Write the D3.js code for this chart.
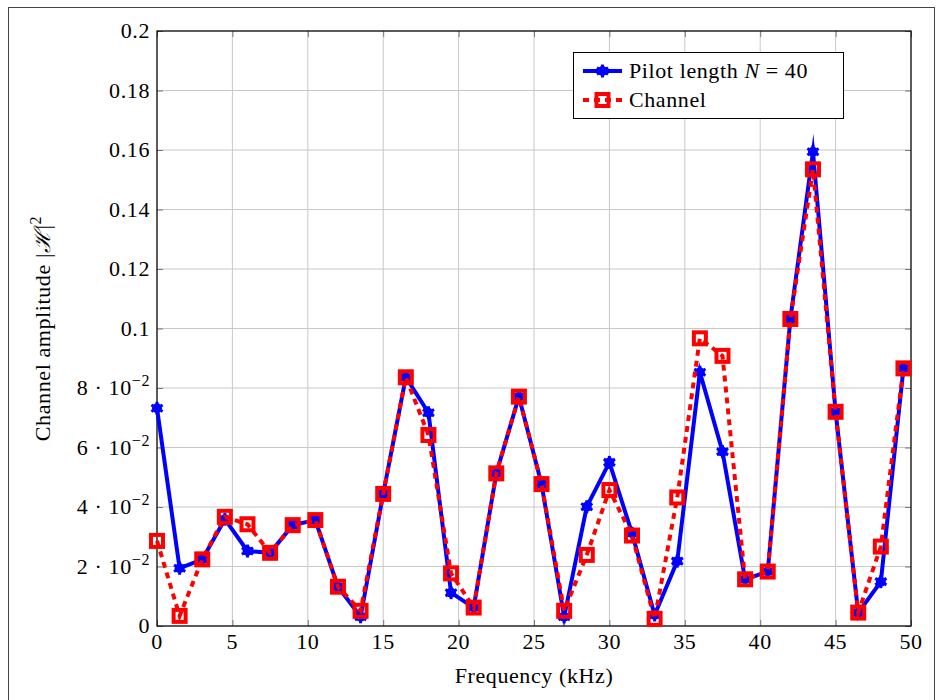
<!DOCTYPE html>
<html><head><meta charset="utf-8">
<script src="https://cdn.jsdelivr.net/npm/d3@7"></script>
<style>body{margin:0;background:#fff}</style>
</head><body><svg id="c" width="936" height="700"></svg>
<script>
const freq = [0,1.5,3,4.5,6,7.5,9,10.5,12,13.5,15,16.5,18,19.5,21,22.5,24,25.5,27,28.5,30,31.5,33,34.5,36,37.5,39,40.5,42,43.5,45,46.5,48,49.5];
const pilot = [0.0732,0.0194,0.0224,0.0359,0.0252,0.0246,0.0339,0.0356,0.0132,0.0031,0.0444,0.0836,0.0717,0.0112,0.0062,0.0513,0.0771,0.0477,0.0031,0.0401,0.0550,0.0312,0.0037,0.0218,0.0853,0.0586,0.0157,0.0183,0.1032,0.1594,0.0720,0.0045,0.0149,0.0866];
const channel = [0.0286,0.0034,0.0224,0.0367,0.0342,0.0246,0.0339,0.0356,0.0132,0.0051,0.0444,0.0836,0.0642,0.0177,0.0062,0.0513,0.0771,0.0477,0.0051,0.0239,0.0457,0.0304,0.0024,0.0432,0.0967,0.0908,0.0157,0.0183,0.1032,0.1535,0.0720,0.0045,0.0267,0.0866];
const xTicks = [0,5,10,15,20,25,30,35,40,45,50];
const yTicks = [0,0.02,0.04,0.06,0.08,0.1,0.12,0.14,0.16,0.18,0.2];
const yTickLabels = ["0","2·10^−2","4·10^−2","6·10^−2","8·10^−2","0.1","0.12","0.14","0.16","0.18","0.2"];
const seriesNames = ["Pilot length N = 40","Channel"];

const FONT = "'Liberation Serif', serif";
const FS = 22, LS = 0.6;
const svg = d3.select("#c");
const L = 157, R = 911, T = 31, B = 626;
const x = d3.scaleLinear().domain([0,50]).range([L,R]);
const y = d3.scaleLinear().domain([0,0.2]).range([B,T]);

svg.append("rect").attr("x",8.5).attr("y",7.5).attr("width",926).attr("height",700)
  .attr("fill","none").attr("stroke","#444").attr("stroke-width",1);

const g = svg.append("g");
g.selectAll(".gx").data(xTicks).join("line")
  .attr("x1",d=>x(d)).attr("x2",d=>x(d)).attr("y1",T).attr("y2",B)
  .attr("stroke","#c8c8c8").attr("stroke-width",1);
g.selectAll(".gy").data(yTicks).join("line")
  .attr("y1",d=>y(d)).attr("y2",d=>y(d)).attr("x1",L).attr("x2",R)
  .attr("stroke","#c8c8c8").attr("stroke-width",1);

const axB = d3.axisBottom(x).tickValues(xTicks).tickSize(-6).tickFormat("");
const axT = d3.axisTop(x).tickValues(xTicks).tickSize(-6).tickFormat("");
const axL = d3.axisLeft(y).tickValues(yTicks).tickSize(-6).tickFormat("");
const axR = d3.axisRight(y).tickValues(yTicks).tickSize(-6).tickFormat("");
[[axB,`translate(0,${B})`],[axT,`translate(0,${T})`],[axL,`translate(${L},0)`],[axR,`translate(${R},0)`]].forEach(([a,t])=>{
  const ag = svg.append("g").attr("transform",t).call(a);
  ag.select(".domain").remove();
  ag.selectAll("line").attr("stroke","#777");
});
svg.append("rect").attr("x",L).attr("y",T).attr("width",R-L).attr("height",B-T)
  .attr("fill","none").attr("stroke","#000").attr("stroke-width",1.2);

svg.append("g").selectAll("text").data(xTicks).join("text")
  .attr("x",d=>x(d)).attr("y",B+23).attr("text-anchor","middle")
  .attr("font-family",FONT).attr("font-size",FS).attr("letter-spacing",LS).text(d=>d);
const yl = svg.append("g").selectAll("text").data(yTicks).join("text")
  .attr("x",L-7).attr("y",d=>y(d)+7).attr("text-anchor","end")
  .attr("font-family",FONT).attr("font-size",FS).attr("letter-spacing",LS);
yl.each(function(d,i){
  const lab = yTickLabels[i];
  const t = d3.select(this);
  if (lab.includes("^")) {
    const [m,e] = lab.split("^");
    t.append("tspan").text(m.replace("·"," · "));
    t.append("tspan").attr("dy",-9).attr("font-size",16).text(e);
  } else t.text(lab);
});

svg.append("text").attr("x",(L+R)/2).attr("y",683).attr("text-anchor","middle")
  .attr("font-family",FONT).attr("font-size",FS).attr("letter-spacing",LS).text("Frequency (kHz)");
const yt = svg.append("text").attr("transform",`translate(50,${(T+B)/2}) rotate(-90)`)
  .attr("text-anchor","middle").attr("font-family",FONT).attr("font-size",FS).attr("letter-spacing",LS);
yt.append("tspan").text("Channel amplitude |");
yt.append("tspan").attr("font-style","italic").text("ℋ");
yt.append("tspan").text("|");
yt.append("tspan").attr("dy",-9).attr("font-size",16).text("2");

const ptsP = freq.map((f,i)=>[f,pilot[i]]);
const ptsC = freq.map((f,i)=>[f,channel[i]]);
const line = d3.line().x(d=>x(d[0])).y(d=>y(d[1]));
const LW = 4;

svg.append("path").datum(ptsP).attr("d",line).attr("fill","none")
  .attr("stroke","#0000ff").attr("stroke-width",LW)
  .attr("stroke-linejoin","miter").attr("stroke-miterlimit",10);

function asterisk(sel, cx, cy){
  const r = 6.5;
  sel.append("circle").attr("cx",cx).attr("cy",cy).attr("r",5).attr("fill","#0000ff");
  [90,30,150].forEach(a=>{
    const rad = a*Math.PI/180;
    sel.append("line").attr("x1",cx-r*Math.cos(rad)).attr("y1",cy-r*Math.sin(rad))
      .attr("x2",cx+r*Math.cos(rad)).attr("y2",cy+r*Math.sin(rad))
      .attr("stroke","#0000ff").attr("stroke-width",3);
  });
}
const mk = svg.append("g");
ptsP.forEach(d=>asterisk(mk, x(d[0]), y(d[1])));

svg.append("path").datum(ptsC).attr("d",line).attr("fill","none")
  .attr("stroke","#ff0000").attr("stroke-width",LW).attr("stroke-dasharray","6,5")
  .attr("stroke-linejoin","miter").attr("stroke-miterlimit",10);
const S = 12;
svg.append("g").selectAll("rect").data(ptsC).join("rect")
  .attr("x",d=>x(d[0])-S/2).attr("y",d=>y(d[1])-S/2).attr("width",S).attr("height",S)
  .attr("fill","none").attr("stroke","#ff0000").attr("stroke-width",4);

const lg = svg.append("g");
lg.append("rect").attr("x",573.5).attr("y",52.5).attr("width",270).attr("height",66)
  .attr("fill","#fff").attr("stroke","#000").attr("stroke-width",1);
const r1 = 71, r2 = 100;
lg.append("line").attr("x1",583).attr("x2",622).attr("y1",r1).attr("y2",r1)
  .attr("stroke","#0000ff").attr("stroke-width",LW);
asterisk(lg, 602.5, r1);
lg.append("line").attr("x1",583).attr("x2",622).attr("y1",r2).attr("y2",r2)
  .attr("stroke","#ff0000").attr("stroke-width",LW).attr("stroke-dasharray","6,5");
lg.append("rect").attr("x",602.5-S/2).attr("y",r2-S/2).attr("width",S).attr("height",S)
  .attr("fill","none").attr("stroke","#ff0000").attr("stroke-width",4);
const t1 = lg.append("text").attr("x",629).attr("y",r1+7).attr("font-family",FONT).attr("font-size",FS).attr("letter-spacing",LS);
t1.append("tspan").text("Pilot length ");
t1.append("tspan").attr("font-style","italic").text("N");
t1.append("tspan").text(" = 40");
lg.append("text").attr("x",629).attr("y",r2+7).attr("font-family",FONT).attr("font-size",FS).attr("letter-spacing",LS).text(seriesNames[1]);
</script></body></html>
